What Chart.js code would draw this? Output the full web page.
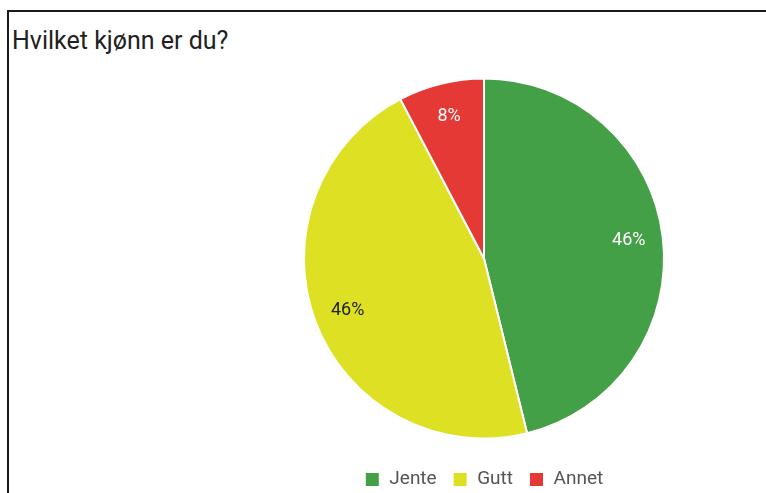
<!DOCTYPE html>
<html>
<head>
<meta charset="utf-8">
<script src="https://cdn.jsdelivr.net/npm/chart.js@4"></script>
<style>
  html, body { margin: 0; padding: 0; background: #fff; overflow: hidden; }
  body { width: 766px; height: 493px; position: relative; }
  #frame {
    position: absolute; left: 7px; top: 10px; width: 780px; height: 500px;
    border-top: 2px solid #1a1a1a; border-left: 2px solid #1a1a1a;
  }
  #title {
    position: absolute; left: 12px; top: 26px;
    font-family: Roboto, sans-serif; font-size: 25px; color: #212121;
  }
  #wrap { position: absolute; left: 202px; top: 13px; width: 564px; height: 486px; }
</style>
</head>
<body>
<div id="frame"></div>
<div id="title">Hvilket kjønn er du?</div>
<div id="wrap"><canvas id="pie" width="564" height="486"></canvas></div>
<script>
const labels = ['Jente', 'Gutt', 'Annet'];
const counts = [6, 6, 1];
const colors = ['#43A047', '#DEE024', '#E53935'];
const labelColors = ['#ffffff', '#222222', '#ffffff'];

// writes the share of each slice inside it
const percentLabels = {
  id: 'percentLabels',
  afterDatasetsDraw(chart) {
    const ctx = chart.ctx;
    const meta = chart.getDatasetMeta(0);
    const total = counts.reduce((a, b) => a + b, 0);
    ctx.save();
    ctx.font = '18px Roboto, sans-serif';
    ctx.textAlign = 'center';
    ctx.textBaseline = 'middle';
    meta.data.forEach((arc, i) => {
      const p = arc.getProps(['x', 'y', 'startAngle', 'endAngle', 'outerRadius'], true);
      const mid = (p.startAngle + p.endAngle) / 2;
      const r = p.outerRadius * 0.81;
      ctx.fillStyle = labelColors[i];
      ctx.fillText(Math.round(counts[i] / total * 100) + '%', p.x + Math.cos(mid) * r, p.y + Math.sin(mid) * r);
    });
    ctx.restore();
  }
};

const data = {
  labels: labels,
  datasets: [
    {
      data: counts,
      backgroundColor: colors,
      borderColor: '#ffffff',
      borderWidth: 2
    }
  ]
};

const config = {
  type: 'pie',
  data: data,
  plugins: [percentLabels],
  options: {
    responsive: false,
    animation: false,
    radius: 180,
    layout: {
      padding: { top: 50, bottom: 0 }
    },
    plugins: {
      legend: {
        position: 'bottom',
        labels: {
          boxWidth: 15,
          boxHeight: 15,
          padding: 16,
          color: '#555555',
          font: { family: 'Roboto, sans-serif', size: 19 }
        }
      },
      tooltip: { enabled: false },
      title: { display: false }
    }
  }
};

new Chart(document.getElementById('pie'), config);
</script>
</body>
</html>
